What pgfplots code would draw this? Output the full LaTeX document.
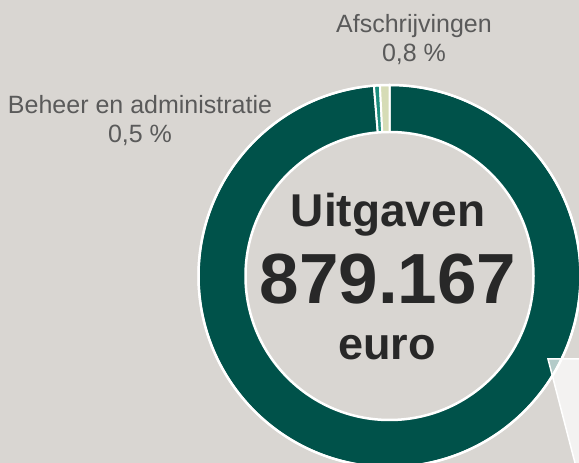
\documentclass[border=0pt]{standalone}
\usepackage{pgfplots}
\pgfplotsset{compat=1.18}
\usepackage{pgfplotstable}
\usepackage{fontspec}
\setmainfont{Liberation Sans}
\definecolor{bg}{RGB}{217,214,210}
\definecolor{dgreen}{RGB}{0,82,74}
\definecolor{sliceteal}{RGB}{26,140,124}
\definecolor{slicelight}{RGB}{214,220,182}
\definecolor{lbl}{RGB}{90,90,90}
\definecolor{ctr}{RGB}{40,40,40}

\pgfplotstableread{
name value
Overig 98.7
Beheer 0.5
Afschrijvingen 0.8
}\slices

\begin{document}
\begin{tikzpicture}
\pgfplotstablegetelem{0}{value}\of\slices \let\va\pgfplotsretval
\pgfplotstablegetelem{1}{value}\of\slices \let\vb\pgfplotsretval
\pgfplotstablegetelem{2}{value}\of\slices \let\vc\pgfplotsretval
\pgfmathsetmacro\aA{90}
\pgfmathsetmacro\aB{\aA-3.6*\va}
\pgfmathsetmacro\aC{\aB-3.6*\vb}
\pgfmathsetmacro\aD{\aC-3.6*\vc}
\path[use as bounding box] (0,0) rectangle (579pt,463pt);
\begin{axis}[at={(0,0)}, anchor=south west, scale only axis,
  width=579pt, height=463pt, xmin=0, xmax=579, ymin=-463, ymax=0,
  hide axis, clip=true]
\fill[bg] (axis cs:0,-463) rectangle (axis cs:579,0);
% slices
\fill[dgreen, draw=white, line width=2pt] (axis cs:389.5,-276) -- ++(\aA:191pt) arc[start angle=\aA, end angle=\aB, radius=191pt] -- cycle;
\fill[sliceteal, draw=white, line width=2pt] (axis cs:389.5,-276) -- ++(\aB:191pt) arc[start angle=\aB, end angle=\aC, radius=191pt] -- cycle;
\fill[slicelight, draw=white, line width=2pt] (axis cs:389.5,-276) -- ++(\aC:191pt) arc[start angle=\aC, end angle=\aD, radius=191pt] -- cycle;
\draw[white, line width=2.5pt] (axis cs:389.5,-276) circle[radius=191pt];
\fill[bg, draw=white, line width=2.5pt] (axis cs:389.5,-276) circle[radius=144pt];
% center text
\node[anchor=base, text=ctr, font=\fontsize{46}{50}\selectfont\bfseries, inner sep=0pt] at (axis cs:388,-227) {Uitgaven};
\node[anchor=base, text=ctr, font=\fontsize{71}{80}\selectfont\bfseries, inner sep=0pt] at (axis cs:388,-304) {879.167};
\node[anchor=base, text=ctr, font=\fontsize{45}{50}\selectfont\bfseries, inner sep=0pt] at (axis cs:387,-360) {euro};
% labels
\node[anchor=base, text=lbl, font=\fontsize{25}{29}\selectfont, inner sep=0pt] at (axis cs:140,-114) {Beheer en administratie};
\node[anchor=base, text=lbl, font=\fontsize{25}{29}\selectfont, inner sep=0pt] at (axis cs:140,-142.5) {0,5 \%};
\node[anchor=base, text=lbl, font=\fontsize{25}{29}\selectfont, inner sep=0pt] at (axis cs:414,-32.5) {Afschrijvingen};
\node[anchor=base, text=lbl, font=\fontsize{25}{29}\selectfont, inner sep=0pt] at (axis cs:414,-61.5) {0,8 \%};
% callout (clipped)
\fill[white, fill opacity=0.7, draw=white, draw opacity=1, line width=1.5pt] (axis cs:548,-359) -- (axis cs:620,-359) -- (axis cs:620,-500) -- (axis cs:584.6,-500) -- cycle;
\end{axis}
\end{tikzpicture}
\end{document}
